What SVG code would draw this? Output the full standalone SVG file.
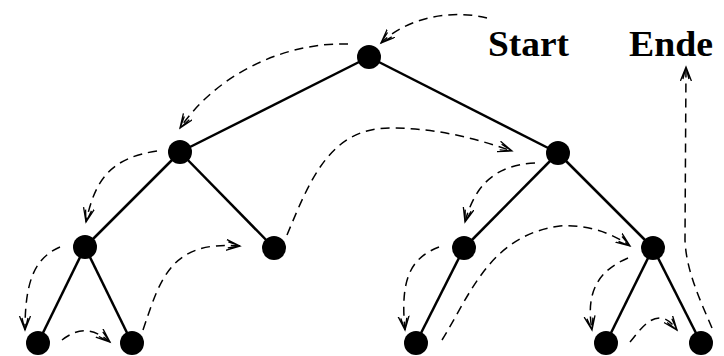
<svg xmlns="http://www.w3.org/2000/svg" width="724" height="356" viewBox="0 0 724 356">
<style>
.edge{stroke:#000;stroke-width:2.5;fill:none}
.trav{stroke:#000;stroke-width:1.5;fill:none;stroke-dasharray:9 6;marker-end:url(#ah)}
.node{fill:#000}
.lbl{font-family:"Liberation Serif","Times New Roman",serif;font-weight:bold;font-size:36px;fill:#000}
</style>
<defs>
<marker id="ah" markerUnits="userSpaceOnUse" markerWidth="18" markerHeight="14" refX="14" refY="6" orient="auto">
<path d="M0,0.5 L14,6 L0,11.5 M2,3 L14,6 L2,9" fill="none" stroke="#000" stroke-width="1.3"/>
</marker>
</defs>
<g id="edges">
<line class="edge" x1="369" y1="57" x2="180" y2="152"/>
<line class="edge" x1="369" y1="57" x2="558" y2="153"/>
<line class="edge" x1="180" y1="152" x2="85" y2="247"/>
<line class="edge" x1="180" y1="152" x2="274" y2="248"/>
<line class="edge" x1="558" y1="153" x2="464" y2="248"/>
<line class="edge" x1="558" y1="153" x2="653" y2="248"/>
<line class="edge" x1="85" y1="247" x2="38" y2="343"/>
<line class="edge" x1="85" y1="247" x2="132" y2="343"/>
<line class="edge" x1="464" y1="248" x2="416" y2="343"/>
<line class="edge" x1="653" y1="248" x2="606" y2="343"/>
<line class="edge" x1="653" y1="248" x2="701" y2="343"/>
</g>
<g id="traversal">
<path class="trav" d="M487,18 C455,10 410,15 381,43"/>
<path class="trav" d="M348,44 C290,42 220,70 180,128"/>
<path class="trav" d="M157,151 C110,158 95,180 86,222"/>
<path class="trav" d="M60,247 C35,258 25,280 25,330"/>
<path class="trav" d="M62,340 C75,330 90,325 110,342"/>
<path class="trav" d="M143,330 C160,280 170,240 240,246"/>
<path class="trav" d="M287,235 C310,180 330,128 390,128 C440,128 480,140 512,151"/>
<path class="trav" d="M535,163 C495,165 475,185 465,222"/>
<path class="trav" d="M439,247 C410,258 400,280 405,330"/>
<path class="trav" d="M442,340 C470,295 490,235 560,226 C590,224 615,235 630,246"/>
<path class="trav" d="M628,258 C600,270 585,290 592,330"/>
<path class="trav" d="M630,342 C640,330 648,318 660,318 C668,318 673,325 677,330"/>
<path class="trav" d="M712,328 C700,300 686,270 685,240 L686,67"/>
</g>
<g id="n-root"><circle class="node" cx="369" cy="57" r="12"/></g>
<g id="n-l"><circle class="node" cx="180" cy="152" r="12"/></g>
<g id="n-r"><circle class="node" cx="558" cy="153" r="12"/></g>
<g id="n-ll"><circle class="node" cx="85" cy="247" r="12"/></g>
<g id="n-lr"><circle class="node" cx="274" cy="248" r="12"/></g>
<g id="n-rl"><circle class="node" cx="464" cy="248" r="12"/></g>
<g id="n-rr"><circle class="node" cx="653" cy="248" r="12"/></g>
<g id="n-lll"><circle class="node" cx="38" cy="343" r="12"/></g>
<g id="n-llr"><circle class="node" cx="132" cy="343" r="12"/></g>
<g id="n-rll"><circle class="node" cx="416" cy="343" r="12"/></g>
<g id="n-rrl"><circle class="node" cx="606" cy="343" r="12"/></g>
<g id="n-rrr"><circle class="node" cx="701" cy="343" r="12"/></g>
<g id="labels">
<text class="lbl" x="488" y="56" textLength="81" lengthAdjust="spacingAndGlyphs">Start</text>
<text class="lbl" x="629" y="56" textLength="84" lengthAdjust="spacingAndGlyphs">Ende</text>
</g>
</svg>
